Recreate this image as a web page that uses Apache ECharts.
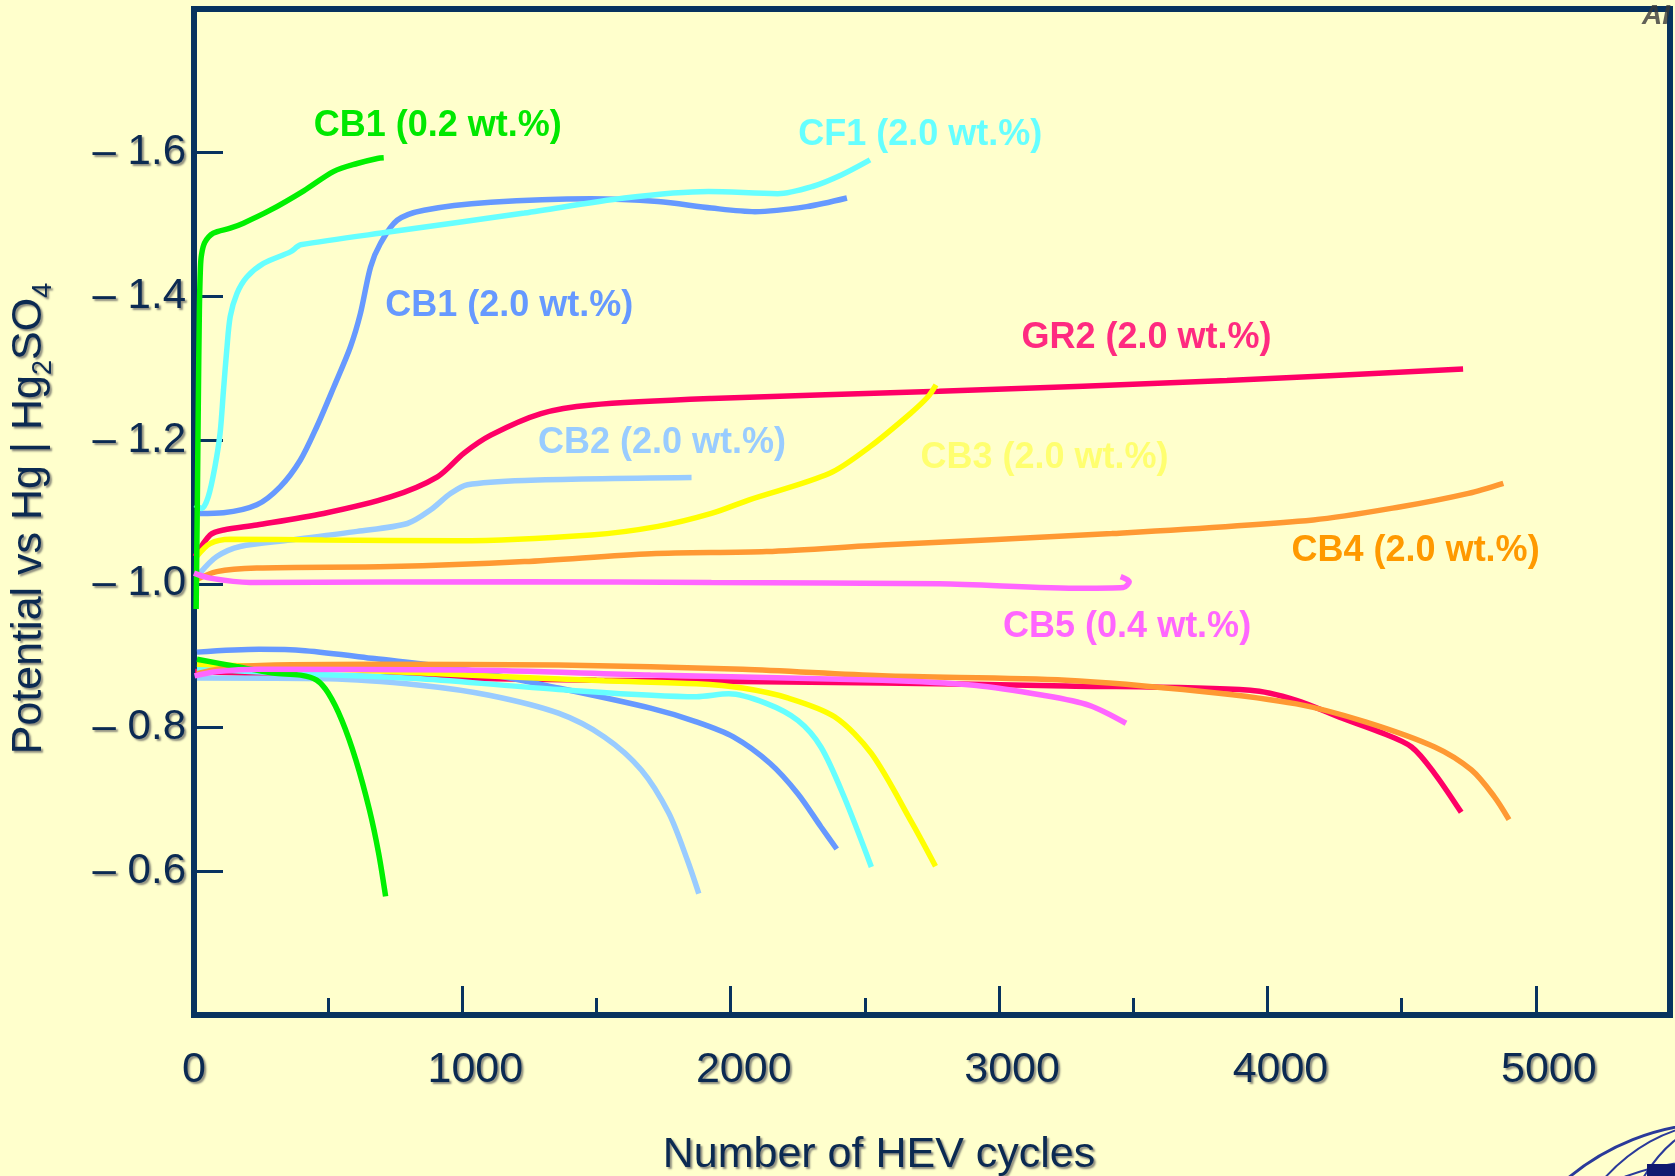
<!DOCTYPE html>
<html>
<head>
<meta charset="utf-8">
<script src="https://cdn.jsdelivr.net/npm/echarts@6/dist/echarts.min.js"></script>
<style>
html,body{margin:0;padding:0;background:#FFFFCC;}
#chart{width:1675px;height:1176px;}
</style>
</head>
<body>
<div id="chart"></div>
<script>
// ---- data (cycles, potential V vs Hg|Hg2SO4) ----
const xTicks = [0, 1000, 2000, 3000, 4000, 5000];
const yTicks = [-1.6, -1.4, -1.2, -1.0, -0.8, -0.6];

const cb1_02_charge = [[8,-0.965],[12,-1.10],[16,-1.25],[20,-1.38],[24,-1.44],[28,-1.458],[40,-1.475],[72,-1.488],[135,-1.495],[184,-1.502],[284,-1.520],[409,-1.547],[521,-1.574],[608,-1.585],[683,-1.592],[707,-1.593]];
const cb1_02_discharge = [[11,-0.895],[157,-0.885],[294,-0.876],[397,-0.873],[457,-0.866],[500,-0.848],[551,-0.810],[603,-0.755],[654,-0.685],[688,-0.625],[714,-0.565]];

const cf1_charge = [[4,-1.110],[29,-1.105],[53,-1.121],[78,-1.163],[97,-1.209],[110,-1.270],[122,-1.325],[135,-1.372],[160,-1.404],[197,-1.427],[259,-1.446],[359,-1.462],[384,-1.469],[397,-1.472],[732,-1.490],[1231,-1.516],[1604,-1.537],[1917,-1.546],[2175,-1.543],[2305,-1.553],[2412,-1.569],[2519,-1.590]];
const cf1_discharge = [[11,-0.882],[328,-0.876],[843,-0.868],[1358,-0.853],[1872,-0.843],[1993,-0.847],[2130,-0.834],[2250,-0.810],[2336,-0.773],[2422,-0.704],[2524,-0.606]];

const cb1_20_charge = [[22,-1.098],[110,-1.099],[234,-1.110],[321,-1.135],[396,-1.172],[458,-1.219],[521,-1.274],[583,-1.330],[620,-1.376],[658,-1.441],[695,-1.474],[757,-1.506],[857,-1.520],[1106,-1.531],[1480,-1.536],[1729,-1.532],[1928,-1.523],[2090,-1.518],[2283,-1.525],[2433,-1.537]];
const cb1_20_discharge = [[11,-0.905],[242,-0.909],[414,-0.907],[672,-0.896],[1015,-0.880],[1358,-0.855],[1701,-0.827],[1872,-0.808],[2010,-0.787],[2147,-0.750],[2250,-0.708],[2336,-0.662],[2395,-0.631]];

const gr2_charge = [[4,-1.038],[60,-1.068],[110,-1.075],[234,-1.082],[483,-1.098],[732,-1.121],[907,-1.149],[1006,-1.182],[1106,-1.207],[1293,-1.237],[1480,-1.249],[1928,-1.258],[2777,-1.268],[3849,-1.283],[4729,-1.299]];
const gr2_discharge = [[4,-0.878],[500,-0.872],[1500,-0.866],[2564,-0.862],[3250,-0.858],[3936,-0.852],[4108,-0.838],[4279,-0.813],[4417,-0.794],[4537,-0.773],[4623,-0.736],[4722,-0.682]];

const cb2_charge = [[22,-1.015],[85,-1.038],[172,-1.052],[359,-1.061],[608,-1.073],[795,-1.084],[882,-1.103],[957,-1.126],[1019,-1.138],[1231,-1.144],[1854,-1.148]];
const cb2_discharge = [[11,-0.869],[500,-0.868],[843,-0.859],[1100,-0.845],[1358,-0.820],[1529,-0.787],[1667,-0.741],[1769,-0.681],[1838,-0.616],[1881,-0.569]];

const cb3_charge = [[10,-1.038],[60,-1.056],[135,-1.062],[483,-1.061],[982,-1.060],[1480,-1.068],[1729,-1.080],[1928,-1.098],[2069,-1.117],[2369,-1.154],[2519,-1.191],[2669,-1.237],[2734,-1.260],[2765,-1.277]];
const cb3_discharge = [[11,-0.888],[500,-0.882],[1015,-0.873],[1529,-0.865],[1872,-0.861],[2044,-0.855],[2215,-0.841],[2387,-0.815],[2524,-0.764],[2676,-0.667],[2763,-0.607]];

const cb4_charge = [[4,-1.005],[85,-1.017],[234,-1.022],[732,-1.024],[1231,-1.031],[1704,-1.042],[2133,-1.045],[2562,-1.054],[3420,-1.070],[4171,-1.089],[4492,-1.107],[4749,-1.126],[4879,-1.140]];
const cb4_discharge = [[11,-0.875],[157,-0.885],[672,-0.888],[1358,-0.887],[2044,-0.881],[2564,-0.872],[3250,-0.866],[3765,-0.850],[4108,-0.833],[4365,-0.808],[4623,-0.773],[4760,-0.741],[4845,-0.704],[4900,-0.672]];

const cb5_charge = [[0,-1.015],[60,-1.008],[209,-1.002],[1231,-1.003],[1928,-1.002],[2777,-1.000],[3313,-0.994],[3463,-0.995],[3485,-1.003],[3453,-1.010]];
const cb5_discharge = [[2,-0.872],[88,-0.878],[242,-0.881],[1015,-0.880],[1701,-0.873],[2564,-0.866],[2907,-0.859],[3164,-0.845],[3336,-0.831],[3473,-0.806]];

// sample names and their label anchor (data coords)
const sampleNames = ['GR2 (2.0 wt.%)','CB2 (2.0 wt.%)','CB1 (2.0 wt.%)','CF1 (2.0 wt.%)','CB3 (2.0 wt.%)','CB4 (2.0 wt.%)','CB1 (0.2 wt.%)','CB5 (0.4 wt.%)'];
const labelAnchors = [[3549,-1.342],[1744,-1.196],[1175,-1.386],[2706,-1.625],[3169,-1.175],[4552,-1.045],[908,-1.637],[3477,-0.940]];
const chargeData = [gr2_charge, cb2_charge, cb1_20_charge, cf1_charge, cb3_charge, cb4_charge, cb1_02_charge, cb5_charge];
const dischargeData = [gr2_discharge, cb2_discharge, cb1_20_discharge, cf1_discharge, cb3_discharge, cb4_discharge, cb1_02_discharge, cb5_discharge];

// ---- styles ----
const lineColors = ['#FF0066','#99CCFF','#6699FF','#66FFFF','#FFFF00','#FF9933','#00F000','#FF66FF'];
const labelColors = ['#FF2A80','#99CCFF','#6699FF','#66FFFF','#FFFF70','#FF9900','#00E800','#FF66FF'];
const NAVY = '#08335F';
const TXT = '#0B2A52';
const FONT = '"Liberation Sans", Arial, Helvetica, sans-serif';
const shadow = {textShadowColor:'rgba(0,0,30,0.45)', textShadowBlur:2, textShadowOffsetX:2, textShadowOffsetY:2};

const series = [];
sampleNames.forEach((name, i) => {
  series.push({
    name: name, type: 'line', data: chargeData[i], showSymbol: false, smooth: 0.3,
    lineStyle: {color: lineColors[i], width: 5.5}, itemStyle: {color: lineColors[i]},
    z: 3 + i, silent: true,
    markPoint: {
      symbol: 'rect', symbolSize: 1, silent: true,
      itemStyle: {color: 'rgba(0,0,0,0)'},
      label: {show: true, position: 'inside', formatter: name, color: labelColors[i],
              fontSize: 36, fontWeight: 'bold', fontFamily: FONT},
      data: [{coord: labelAnchors[i]}]
    }
  });
  series.push({
    name: name + ' discharge', type: 'line', data: dischargeData[i], showSymbol: false, smooth: 0.3,
    lineStyle: {color: lineColors[i], width: 5.5}, itemStyle: {color: lineColors[i]},
    z: 3 + i, silent: true
  });
});

const txtStyle = Object.assign({color: TXT, fontSize: 43, fontFamily: FONT}, shadow);

const chart = echarts.init(document.getElementById('chart'), null, {renderer: 'canvas'});
chart.setOption({
  animation: false,
  backgroundColor: '#FFFFCC',
  grid: {left: 194, right: 5, top: 9, bottom: 161, containLabel: false, outerBoundsMode: 'none',
         show: true, borderColor: NAVY, borderWidth: 6, backgroundColor: 'transparent'},
  xAxis: [{
    type: 'value', min: 0, max: 5500, interval: 1000,
    name: 'Number of HEV cycles', nameLocation: 'middle', nameGap: 119,
    nameTextStyle: Object.assign({color: TXT, fontSize: 43, fontFamily: FONT, padding: [0, 106, 0, 0]}, shadow),
    axisLine: {show: true, lineStyle: {color: NAVY, width: 6}},
    axisTick: {show: true, inside: true, length: 29, lineStyle: {color: NAVY, width: 3}},
    axisLabel: {color: TXT, fontSize: 43, fontFamily: FONT, margin: 34,
      formatter: v => {
        if (xTicks.indexOf(v) < 0) return '';
        return v === 0 ? '{z|0}' : '{n|' + v + '}';
      },
      rich: {
        z: txtStyle,
        n: Object.assign({padding: [0, 0, 0, 26]}, txtStyle)
      }},
    splitLine: {show: false}
  }, {
    type: 'value', min: 0, max: 5500, interval: 500, position: 'bottom', gridIndex: 0,
    axisLine: {show: false},
    axisTick: {show: true, inside: true, length: 17, lineStyle: {color: NAVY, width: 3}},
    axisLabel: {show: false}, splitLine: {show: false}
  }],
  yAxis: {
    type: 'value', min: -1.8, max: -0.4, interval: 0.2, inverse: true,
    name: 'Potential vs Hg | Hg{s|2}SO{s|4}', nameLocation: 'middle', nameGap: 137,
    nameTextStyle: Object.assign({color: TXT, fontSize: 43, fontFamily: FONT, lineHeight: 56, padding: [0, 13, 0, 0],
      rich: {s: {fontSize: 27, fontFamily: FONT, color: TXT, verticalAlign: 'bottom', lineHeight: 27}}}, shadow),
    axisLine: {show: true, lineStyle: {color: NAVY, width: 6}},
    axisTick: {show: true, inside: true, length: 29, lineStyle: {color: NAVY, width: 3}},
    axisLabel: Object.assign({color: TXT, fontSize: 42, fontFamily: FONT, margin: 8,
      formatter: v => {
        const r = Math.round(v * 10) / 10;
        return yTicks.some(t => Math.abs(t - r) < 1e-6) ? '\u2013 ' + Math.abs(r).toFixed(1) : '';
      }}, shadow),
    splitLine: {show: false}
  },
  graphic: [
    {type: 'text', left: 1642, top: 2, z: 100, style: {text: 'AI', fill: '#3a3a3a', font: 'italic bold 28px ' + FONT, opacity: 0.8}},
    {type: 'group', z: 100, children: [
      {type: 'circle', shape: {cx: 1720, cy: 1360, r: 237}, style: {fill: 'none', stroke: '#2A3A9A', lineWidth: 3}},
      {type: 'ellipse', shape: {cx: 1720, cy: 1360, rx: 237, ry: 200}, style: {fill: 'none', stroke: '#2A3A9A', lineWidth: 2}},
      {type: 'ellipse', shape: {cx: 1720, cy: 1360, rx: 237, ry: 160}, style: {fill: 'none', stroke: '#2A3A9A', lineWidth: 2}},
      {type: 'ellipse', shape: {cx: 1720, cy: 1360, rx: 237, ry: 120}, style: {fill: 'none', stroke: '#2A3A9A', lineWidth: 2}},
      {type: 'ellipse', shape: {cx: 1720, cy: 1360, rx: 180, ry: 237}, style: {fill: 'none', stroke: '#2A3A9A', lineWidth: 2}},
      {type: 'ellipse', shape: {cx: 1720, cy: 1360, rx: 120, ry: 237}, style: {fill: 'none', stroke: '#2A3A9A', lineWidth: 2}},
      {type: 'rect', shape: {x: 1647, y: 1164, width: 30, height: 12}, style: {fill: '#101a70'}}
    ]}
  ],
  series: series
});
</script>
</body>
</html>
